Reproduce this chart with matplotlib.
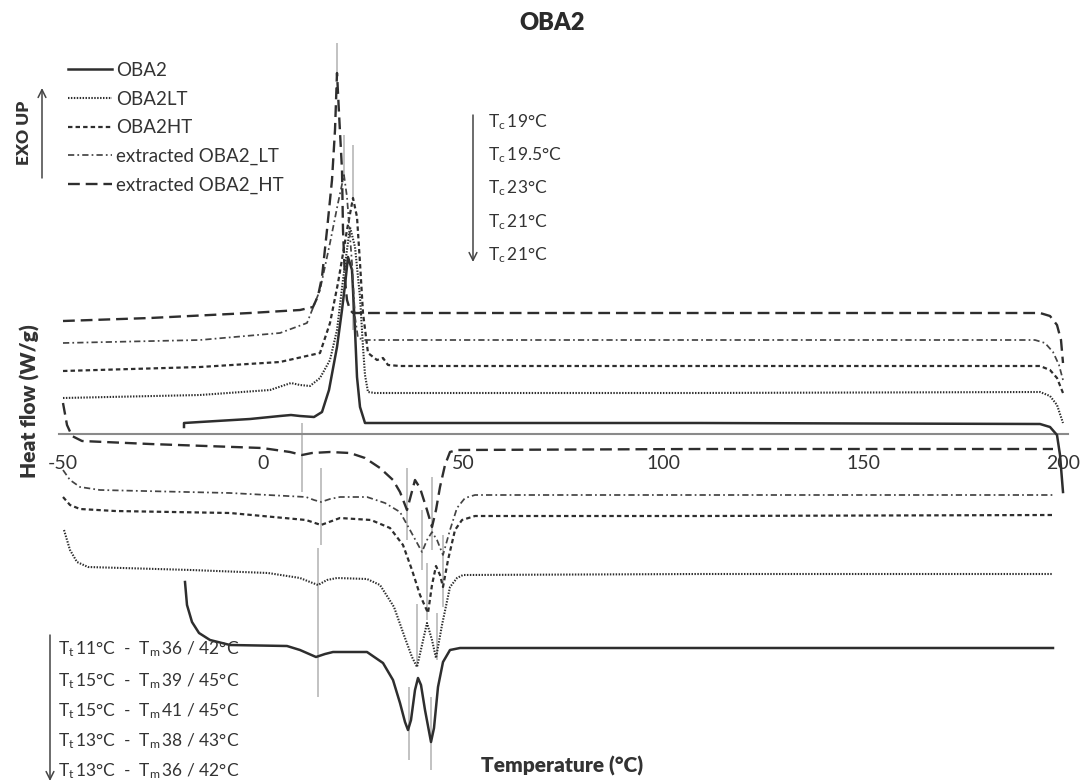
import matplotlib
matplotlib.use("Agg")
import matplotlib.pyplot as plt

plt.rcParams['font.family'] = ['Lato', 'DejaVu Sans']
plt.rcParams['mathtext.fontset'] = 'custom'
plt.rcParams['mathtext.rm'] = 'Lato'
plt.rcParams['mathtext.it'] = 'Lato:italic'
plt.rcParams['mathtext.bf'] = 'Lato:bold'

# ---------------- data (Temperature in °C, heat flow in W/g, curves offset) ----------------
series_names = ['OBA2', 'OBA2LT', 'OBA2HT', 'extracted OBA2_LT', 'extracted OBA2_HT']

# cooling scans (upper curves)
cool_T_OBA2 = [-19.75, -19.75, -15.75, -3.25, 4.25, 7, 9.25, 12.75, 14.75, 16.5, 18.5, 19.75, 20.5, 21.25,
               22.25, 23, 23.5, 24.25, 25.5, 109.25, 194.25, 196.75, 198.5, 199.25, 200]
cool_H_OBA2 = [0.07, 0.11, 0.12, 0.15, 0.18, 0.19, 0.18, 0.17, 0.22, 0.44, 0.87, 1.24, 1.49, 1.77,
               1.64, 1.04, 0.57, 0.27, 0.11, 0.11, 0.10, 0.07, -0.01, -0.21, -0.58]

cool_T_OBA2LT = [-50, -15.75, 1.75, 7, 9.25, 11.75, 14.25, 16.75, 18.5, 20, 21.75, 23, 24.25, 25, 25.5,
                 26.25, 28, 109.25, 194.25, 196.75, 198.5, 200]
cool_H_OBA2LT = [0.36, 0.39, 0.44, 0.51, 0.49, 0.48, 0.56, 0.74, 1.04, 1.54, 2.07, 1.87, 1.37, 0.87, 0.59,
                 0.42, 0.41, 0.41, 0.42, 0.38, 0.29, 0.11]

cool_T_OBA2HT = [-50, -15.75, 4.25, 14.25, 16.75, 18.75, 21, 22.5, 23.5, 24.25, 25, 26.25, 28.5, 30, 31.25,
                 34.25, 109.25, 194.25, 196.75, 198.5, 200]
cool_H_OBA2HT = [0.63, 0.67, 0.72, 0.81, 1.11, 1.51, 2.04, 2.36, 2.17, 1.71, 1.21, 0.81, 0.74, 0.76, 0.69,
                 0.68, 0.68, 0.68, 0.64, 0.56, 0.41]

cool_T_extLT = [-50, -15.75, 4.25, 11, 14.25, 16.75, 18.75, 20.25, 21, 22.25, 23, 23.75, 25.5, 109.25, 193,
                195.5, 197.5, 199, 200]
cool_H_extLT = [0.91, 0.94, 1.01, 1.11, 1.44, 1.91, 2.31, 2.59, 2.37, 1.71, 1.17, 0.96, 0.94, 0.94, 0.94,
                0.91, 0.82, 0.69, 0.54]

cool_T_extHT = [-50, -28.25, -3.25, 9.25, 12.5, 13.75, 14.75, 16, 17.25, 18, 18.5, 19, 19.75, 20, 20.5, 21,
                21.75, 22.5, 84.25, 159.25, 194.25, 196.75, 198.5, 199.5, 200]
cool_H_extHT = [1.13, 1.16, 1.21, 1.24, 1.27, 1.38, 1.57, 2.04, 2.54, 3.04, 3.61, 3.21, 2.64, 2.04, 1.54, 1.34,
                1.24, 1.21, 1.21, 1.21, 1.21, 1.18, 1.09, 0.94, 0.71]

# heating scans (lower curves)
heat_T_OBA2 = [-19.5, -19, -17.75, -16, -13.25, -8.25, 6, 9.25, 13.25, 15.5, 17.5, 26, 30, 32.5, 34.25, 35.5,
               36.25, 37, 38, 38.75, 39.5, 40.5, 42, 42.75, 43.75, 45, 46.75, 49.25, 109.25, 197.5]
heat_H_OBA2 = [-1.48, -1.71, -1.88, -1.99, -2.06, -2.11, -2.12, -2.16, -2.23, -2.20, -2.18, -2.18, -2.29, -2.46,
               -2.69, -2.88, -2.96, -2.86, -2.56, -2.44, -2.51, -2.76, -3.08, -2.94, -2.53, -2.28, -2.16, -2.14,
               -2.14, -2.14]

heat_T_OBA2LT = [-49.75, -48.25, -46.5, -43.75, -18, 1.25, 9.25, 11.75, 13.75, 16, 18.5, 26, 29.25, 32.75, 35.5,
                 37.25, 38.5, 39.75, 41, 42.25, 43.25, 44.75, 46.75, 48.5, 50, 109.25, 197.5]
heat_H_OBA2LT = [-0.96, -1.16, -1.28, -1.33, -1.36, -1.39, -1.44, -1.48, -1.51, -1.46, -1.44, -1.45, -1.51, -1.73,
                 -2.04, -2.23, -2.33, -2.11, -1.89, -2.06, -2.24, -1.91, -1.53, -1.44, -1.41, -1.40, -1.40]

heat_T_OBA2HT = [-50, -48.25, -45.75, -37, -8.25, 10.75, 14.5, 19.25, 27, 31.75, 35, 37.25, 39.25, 41.25, 42.25,
                 43.25, 44.25, 45, 46.25, 48, 49.75, 53, 109.25, 197.5]
heat_H_OBA2HT = [-0.63, -0.71, -0.75, -0.77, -0.79, -0.86, -0.91, -0.84, -0.86, -0.94, -1.11, -1.36, -1.61, -1.79,
                 -1.51, -1.32, -1.41, -1.53, -1.26, -0.96, -0.86, -0.82, -0.82, -0.81]

heat_T_extLT = [-50, -48.25, -45.75, -40.75, -8.25, 10.75, 12.75, 14.5, 16.75, 19.25, 26, 30.5, 34.25, 36.75,
                39.75, 41, 42.25, 43.5, 45, 46.75, 48.5, 50.5, 53, 109.25, 197.5]
heat_H_extLT = [-0.36, -0.46, -0.53, -0.56, -0.59, -0.63, -0.66, -0.68, -0.65, -0.63, -0.63, -0.69, -0.78, -0.96,
                -1.18, -1.06, -0.98, -1.06, -1.21, -0.96, -0.74, -0.64, -0.61, -0.61, -0.61]

heat_T_extHT = [-50, -49, -47.75, -45.25, -28.25, -0.25, 6.75, 9.75, 12.25, 16.75, 21.75, 25.5, 29.25, 32.5,
                34.25, 36, 37, 38, 39.25, 41, 42.25, 43.25, 44.25, 45.5, 46.75, 48.5, 109.25, 197.5]
heat_H_extHT = [0.31, 0.09, -0.02, -0.07, -0.10, -0.14, -0.18, -0.21, -0.19, -0.18, -0.19, -0.24, -0.34, -0.46,
                -0.58, -0.76, -0.61, -0.46, -0.54, -0.76, -0.93, -0.76, -0.53, -0.31, -0.18, -0.16, -0.15, -0.15]

# peak marker lines (temperature, heat flow from, heat flow to)
mark_T = [18.5, 20.25, 22.5, 22.5, 9.75, 14.5, 13.75, 36, 42.25, 39.75, 45, 41, 38.5, 43.5, 36.5, 42]
mark_lo = [3.54, 2.54, 2.34, 1.04, -0.58, -1.11, -2.63, -1.06, -1.16, -1.36, -1.73, -1.86, -2.33, -2.26, -3.26, -3.36]
mark_hi = [3.91, 2.99, 2.89, 1.44, 0.11, -0.34, -1.14, -0.34, -0.43, -0.76, -1.01, -1.29, -1.70, -1.79, -2.53, -2.63]

x_ticks = [-50, 0, 50, 100, 150, 200]
tc_values = ['19', '19.5', '23', '21', '21']
tt_values = ['11', '15', '15', '13', '13']
tm1_values = ['36', '39', '41', '38', '36']
tm2_values = ['42', '45', '45', '43', '42']

# ---------------- figure ----------------
W, H = 1085, 784
fig = plt.figure(figsize=(W / 100, H / 100), dpi=100)
fig.patch.set_facecolor('white')
ax = fig.add_axes([0, 0, 1, 1])
ax.set_facecolor('white')
ax.set_xlim(-65.75, 205.5)
ax.set_ylim(-3.50, 4.34)

def fx(px):
    return px / W

def fy(py):
    return 1 - py / H

line_col = '#2e2e2e'
text_col = '#333333'

styles = [
    dict(color=line_col, lw=1.8, linestyle='-'),
    dict(color=line_col, lw=1.5, linestyle=(0, (0.7, 0.7))),
    dict(color=line_col, lw=1.6, linestyle=(0, (2.0, 1.4))),
    dict(color='#444444', lw=1.25, linestyle=(0, (3.6, 1.8, 1.0, 1.8))),
    dict(color=line_col, lw=1.7, linestyle=(0, (5.0, 2.5))),
]
cool = [(cool_T_OBA2, cool_H_OBA2), (cool_T_OBA2LT, cool_H_OBA2LT), (cool_T_OBA2HT, cool_H_OBA2HT),
        (cool_T_extLT, cool_H_extLT), (cool_T_extHT, cool_H_extHT)]
heat = [(heat_T_OBA2, heat_H_OBA2), (heat_T_OBA2LT, heat_H_OBA2LT), (heat_T_OBA2HT, heat_H_OBA2HT),
        (heat_T_extLT, heat_H_extLT), (heat_T_extHT, heat_H_extHT)]

ax.vlines(mark_T, mark_lo, mark_hi, colors='#b8b8b8', lw=1.2, zorder=1)

handles = []
for name, st, (tc, hc), (th, hh) in zip(series_names, styles, cool, heat):
    ln, = ax.plot(tc, hc, label=name, zorder=3, **st)
    ax.plot(th, hh, zorder=3, **st)
    handles.append(ln)

# axis
for s in ['top', 'left', 'right']:
    ax.spines[s].set_visible(False)
ax.spines['bottom'].set_position(('data', 0))
ax.spines['bottom'].set_bounds(-51, 201.25)
ax.spines['bottom'].set_color('#8a8a8a')
ax.spines['bottom'].set_linewidth(1.5)
ax.set_xticks(x_ticks)
ax.set_xticklabels([str(v) for v in x_ticks])
ax.tick_params(axis='x', length=0, pad=15, labelsize=14, labelcolor=text_col)
ax.set_yticks([])

# legend
leg = ax.legend(handles=handles, loc='upper left', bbox_to_anchor=(fx(68), fy(62)),
                bbox_transform=fig.transFigure, frameon=False, borderpad=0, borderaxespad=0,
                fontsize=13.5, handlelength=2.35, handletextpad=0.2, labelspacing=0.62)
for t in leg.get_texts():
    t.set_color(text_col)

# texts
fig.text(fx(552), fy(23), 'OBA2', fontsize=17, fontweight='heavy', color='#2a2a2a', ha='center', va='center')
fig.text(fx(24), fy(133), 'EXO UP', fontsize=12.5, fontweight='heavy', color=text_col, rotation=90,
         ha='center', va='center')
fig.text(fx(30), fy(401), 'Heat flow (W/g)', fontsize=15, fontweight='heavy', color=text_col, rotation=90,
         ha='center', va='center')
fig.text(fx(562), fy(766), 'Temperature (°C)', fontsize=15, fontweight='heavy', color=text_col,
         ha='center', va='center')

arrow_kw = dict(arrowstyle='->', lw=1.1, color='#444444', shrinkA=0, shrinkB=0, mutation_scale=14)
ax.annotate('', xy=(42, H - 88), xytext=(42, H - 178), xycoords='figure pixels',
            textcoords='figure pixels', arrowprops=arrow_kw)
ax.annotate('', xy=(473, H - 262), xytext=(473, H - 115), xycoords='figure pixels',
            textcoords='figure pixels', arrowprops=arrow_kw)
ax.annotate('', xy=(50, H - 781), xytext=(50, H - 635), xycoords='figure pixels',
            textcoords='figure pixels', arrowprops=arrow_kw)

tc_rows = [122, 155, 188, 222, 255]
for v, py in zip(tc_values, tc_rows):
    fig.text(fx(488), fy(py), r'T$_\mathrm{c}\,$' + v + '°C', fontsize=12.5, color=text_col,
             ha='left', va='center')

tt_rows = [649, 681, 711, 741, 771]
for a, b, c, py in zip(tt_values, tm1_values, tm2_values, tt_rows):
    s = r'T$_\mathrm{t}\,$' + a + '°C  -  ' + r'T$_\mathrm{m}\,$' + b + ' / ' + c + '°C'
    fig.text(fx(58), fy(py), s, fontsize=12.5, color=text_col, ha='left', va='center')

fig.savefig('out.png', dpi=100, facecolor='white')
